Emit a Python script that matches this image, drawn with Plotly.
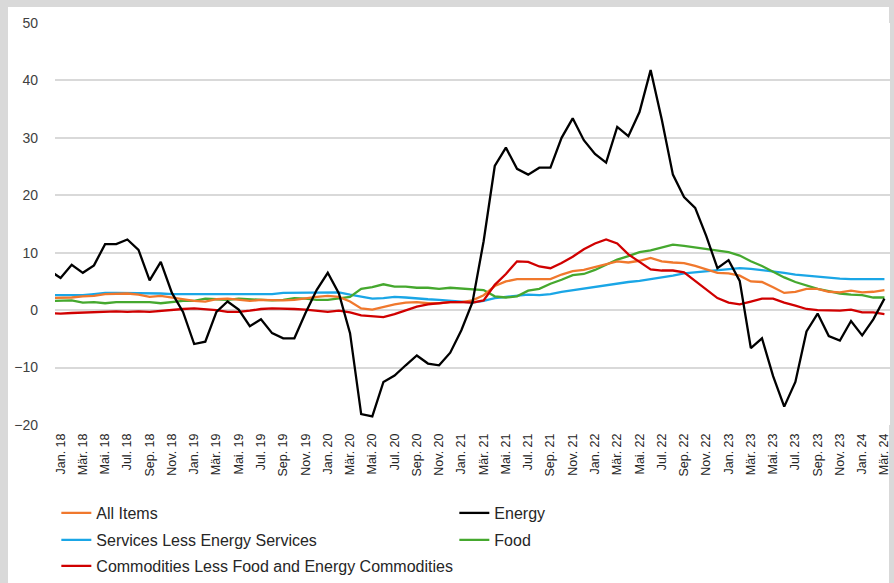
import plotly.graph_objects as go

months = ["Jan.", "Feb.", "Mär.", "Apr.", "Mai.", "Jun.", "Jul.", "Aug.", "Sep.", "Okt.", "Nov.", "Dez."]
years = ["18", "19", "20", "21", "22", "23", "24"]
# Dec 2017 point (clipped at the left edge) followed by Jan 2018 .. Mar 2024
categories = ["Dez. 17"] + [f"{m} {y}" for y in years for m in months][:75]

energy = [6.9,
          5.6, 7.9, 6.5, 7.8, 11.5, 11.5, 12.3, 10.5, 5.2, 8.4, 3.0, -0.3,
          -5.9, -5.5, -0.3, 1.5, 0.1, -2.8, -1.6, -4.0, -4.9, -4.9, -0.5, 3.5,
          6.5, 2.9, -4.0, -18.1, -18.5, -12.5, -11.4, -9.6, -7.9, -9.3, -9.6, -7.4,
          -3.5, 1.4, 12.0, 25.1, 28.3, 24.6, 23.6, 24.8, 24.8, 30.0, 33.4, 29.6,
          27.2, 25.7, 31.9, 30.3, 34.5, 41.8, 33.2, 23.6, 19.7, 17.8, 12.9, 7.3,
          8.7, 5.1, -6.6, -4.9, -11.5, -16.8, -12.5, -3.7, -0.6, -4.5, -5.3, -1.9,
          -4.4, -1.6, 2.0]

all_items = [2.1,
             2.1, 2.2, 2.4, 2.5, 2.8, 2.9, 2.9, 2.7, 2.3, 2.5, 2.2, 1.9,
             1.6, 1.5, 1.9, 2.0, 1.8, 1.6, 1.8, 1.7, 1.7, 1.8, 2.1, 2.3,
             2.5, 2.3, 1.5, 0.3, 0.1, 0.6, 1.0, 1.3, 1.4, 1.2, 1.2, 1.4,
             1.4, 1.7, 2.6, 4.2, 5.0, 5.4, 5.4, 5.3, 5.4, 6.2, 6.8, 7.0,
             7.5, 7.9, 8.5, 8.3, 8.6, 9.1, 8.5, 8.3, 8.2, 7.7, 7.1, 6.5,
             6.4, 6.0, 5.0, 4.9, 4.0, 3.0, 3.2, 3.7, 3.7, 3.2, 3.1, 3.4,
             3.1, 3.2, 3.5]

services = [2.6,
            2.6, 2.6, 2.6, 2.8, 3.0, 3.0, 3.0, 3.0, 2.9, 2.9, 2.8, 2.8,
            2.8, 2.8, 2.8, 2.8, 2.8, 2.8, 2.8, 2.8, 3.0, 3.0, 3.0, 3.1,
            3.1, 3.1, 2.7, 2.3, 2.0, 2.1, 2.3, 2.2, 2.0, 1.9, 1.8, 1.7,
            1.5, 1.3, 1.6, 2.1, 2.3, 2.5, 2.7, 2.6, 2.8, 3.2, 3.5, 3.8,
            4.1, 4.4, 4.7, 4.9, 5.1, 5.4, 5.6, 6.0, 6.4, 6.6, 6.8, 7.0,
            7.1, 7.3, 7.2, 7.0, 6.8, 6.5, 6.2, 6.0, 5.8, 5.6, 5.5, 5.4,
            5.4, 5.4, 5.4]

food = [1.6,
        1.7, 1.7, 1.3, 1.4, 1.2, 1.4, 1.4, 1.4, 1.4, 1.2, 1.4, 1.6,
        1.6, 2.0, 1.9, 1.8, 2.0, 1.9, 1.8, 1.7, 1.8, 2.1, 2.0, 1.8,
        1.8, 2.0, 2.3, 3.7, 4.0, 4.5, 4.1, 4.1, 3.9, 3.9, 3.7, 3.9,
        3.8, 3.6, 3.5, 2.4, 2.2, 2.4, 3.4, 3.7, 4.6, 5.3, 6.1, 6.3,
        7.0, 7.9, 8.8, 9.4, 10.1, 10.4, 10.9, 11.4, 11.2, 10.9, 10.6, 10.4,
        10.1, 9.5, 8.5, 7.7, 6.7, 5.7, 4.9, 4.3, 3.7, 3.3, 2.9, 2.7,
        2.6, 2.2, 2.2]

commodities = [-0.5,
               -0.6, -0.5, -0.4, -0.4, -0.3, -0.2, -0.3, -0.2, -0.3, -0.1, 0.1, 0.2,
               0.3, 0.2, 0.0, -0.3, -0.3, -0.1, 0.2, 0.3, 0.3, 0.2, 0.1, -0.1,
               -0.3, -0.1, -0.4, -0.9, -1.0, -1.2, -0.7, 0.0, 0.6, 1.0, 1.2, 1.4,
               1.4, 1.3, 1.7, 4.4, 6.3, 8.5, 8.4, 7.6, 7.3, 8.2, 9.3, 10.6,
               11.6, 12.3, 11.6, 9.7, 8.4, 7.1, 6.9, 6.9, 6.6, 5.1, 3.7, 2.1,
               1.3, 1.0, 1.5, 2.0, 2.0, 1.3, 0.8, 0.2, 0.0, -0.1, -0.1, 0.1,
               -0.4, -0.4, -0.7]

y_ticks = [50, 40, 30, 20, 10, 0, -10, -20]

x = list(range(-1, len(categories) - 1))
tickvals = list(range(0, len(categories) - 1, 2))
ticktext = [categories[i + 1] for i in tickvals]
boundaries = [v - 0.5 for v in tickvals]

FONT = "Liberation Sans, Arial, sans-serif"

series = [
    # (name, values, color, legend id, rank) in drawing order
    ("Services Less Energy Services", services, "#1AA6E6", "legend2", 1),
    ("Food", food, "#45A82E", "legend2", 2),
    ("All Items", all_items, "#F0782D", "legend", 1),
    ("Commodities Less Food and Energy Commodities", commodities, "#D00000", "legend3", 1),
    ("Energy", energy, "#000000", "legend", 2),
]

fig = go.Figure()
for name, vals, color, leg, rank in series:
    fig.add_trace(go.Scatter(
        x=x, y=vals, name=name, mode="lines",
        line=dict(color=color, width=2.3),
        legend=leg, legendrank=rank,
    ))


def legend_row(py, width):
    return dict(
        orientation="h",
        x=0.0016, xanchor="left",
        y=(425 - py) / 402, yanchor="middle",
        entrywidth=width, entrywidthmode="pixels",
        font=dict(size=16, color="#262626", family=FONT),
        bgcolor="rgba(0,0,0,0)",
        itemwidth=30,
    )


fig.update_layout(
    width=894, height=583,
    margin=dict(l=55, r=4, t=23, b=158, autoexpand=False),
    paper_bgcolor="#D9D9D9",
    plot_bgcolor="white",
    font=dict(family=FONT, color="#404040"),
    showlegend=True,
    legend=legend_row(513, 353),
    legend2=legend_row(540, 353),
    legend3=legend_row(566, 480),
    xaxis=dict(
        range=[-0.5, len(categories) - 1.5],
        tickmode="array", tickvals=tickvals, ticktext=ticktext,
        tickangle=-90,
        tickfont=dict(size=12.5, color="#262626"),
        showgrid=False, zeroline=False, showline=False,
        ticks="",
        ticklabelstandoff=5,
        automargin=False,
    ),
    xaxis2=dict(
        overlaying="x", anchor="free", position=20 / 70, side="bottom",
        range=[-0.5, len(categories) - 1.5],
        tickmode="array", tickvals=boundaries,
        showticklabels=False, ticks="outside", ticklen=4, tickcolor="#BFBFBF",
        showgrid=False, zeroline=False, showline=False,
    ),
    yaxis=dict(
        range=[-20, 50],
        tickmode="array", tickvals=y_ticks,
        tickfont=dict(size=14, color="#404040"),
        showgrid=True, gridcolor="#D9D9D9", gridwidth=1.5,
        zeroline=True, zerolinecolor="#D9D9D9", zerolinewidth=1.5,
        showline=False, ticks="",
        ticklabelstandoff=16,
        automargin=False,
    ),
    shapes=[dict(
        type="rect", xref="paper", yref="paper", layer="below",
        x0=(8 - 55) / 835, x1=(889 - 55) / 835,
        y0=(425 - 600) / 402, y1=(425 - 7) / 402,
        fillcolor="white", line=dict(width=0),
    )],
)

fig.write_html("out.html", config={"displayModeBar": False},
               post_script="document.body.style.margin='0';")
